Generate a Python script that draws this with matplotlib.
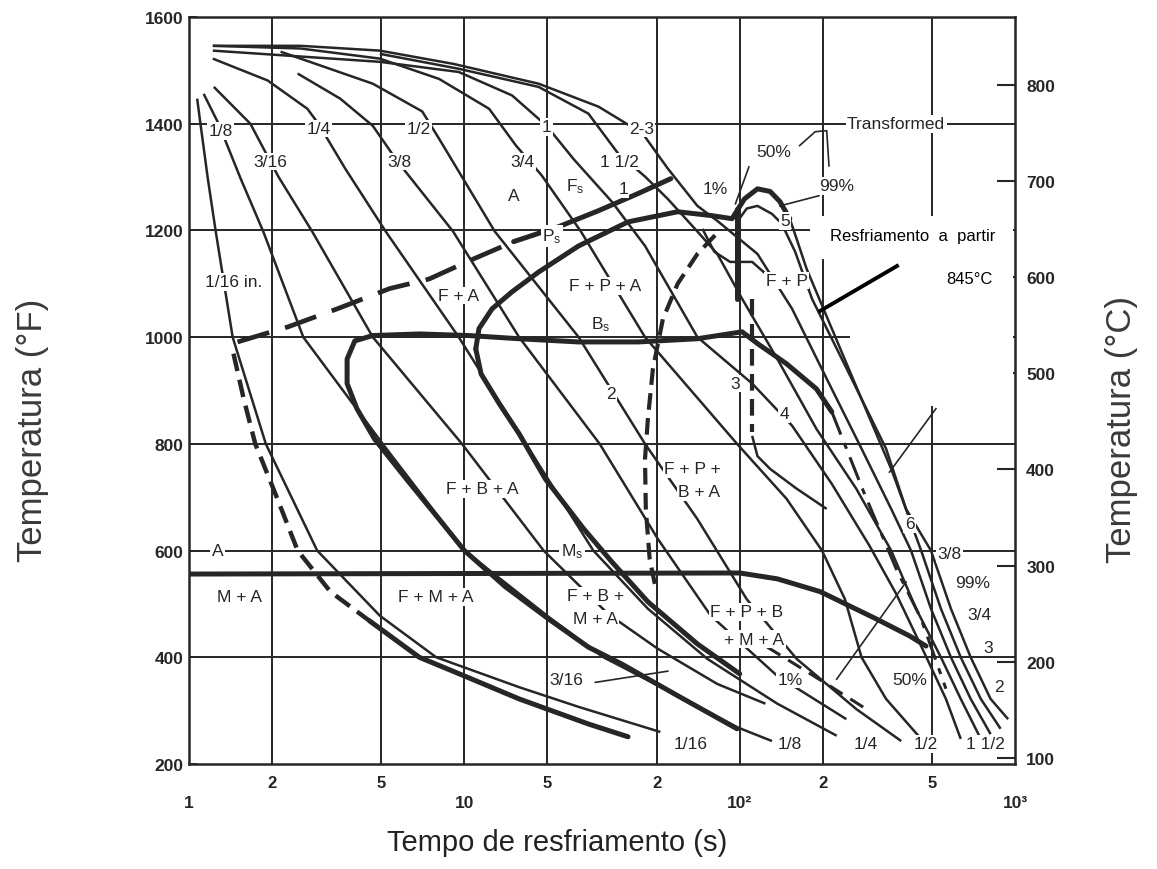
import matplotlib.pyplot as plt
from matplotlib.patches import Polygon
from matplotlib.lines import Line2D

plt.rcParams['font.family'] = ['Liberation Sans', 'DejaVu Sans']
plt.rcParams['mathtext.fontset'] = 'custom'
plt.rcParams['mathtext.rm'] = 'Liberation Sans'
plt.rcParams['mathtext.it'] = 'Liberation Sans'

INK = '#262626'

# cooling curves: time (s) and temperature (F)
t_1_16 = [1.07, 1.10, 1.17, 1.25, 1.44, 1.90, 2.92, 4.93, 7.9, 15.8, 26.0, 51.5]
f_1_16 = [1447, 1400, 1297, 1198, 1000, 800, 600, 478, 400, 344, 307, 260]
t_1_8 = [1.13, 1.28, 1.54, 1.86, 2.60, 5.05, 10.0, 20.2, 32.0, 59.5, 97.8, 131]
f_1_8 = [1456, 1400, 1297, 1198, 1000, 800, 600, 476, 400, 328, 269, 243]
t_3_16 = [1.23, 1.67, 2.11, 2.80, 4.65, 9.8, 19.4, 33.3, 50.4, 82.9, 124]
f_3_16 = [1469, 1400, 1301, 1198, 1000, 800, 600, 481, 416, 350, 313]
t_1_4 = [1.22, 1.93, 2.69, 2.95, 3.69, 5.18, 9.54, 16.7, 29.4, 46.4, 76.3, 137, 225]
f_1_4 = [1522, 1481, 1428, 1400, 1316, 1198, 1000, 800, 600, 491, 397, 313, 253]
t_3_8 = [2.48, 3.54, 4.65, 5.72, 9.1, 15.8, 31.0, 50.4, 78.5, 137, 244]
f_3_8 = [1494, 1447, 1396, 1329, 1198, 1000, 800, 622, 478, 365, 284]
t_1_2 = [2.15, 4.65, 7.03, 8.09, 12.9, 26.0, 45.3, 70.2, 106, 161, 265, 386]
f_1_2 = [1535, 1475, 1423, 1372, 1198, 1000, 800, 659, 509, 397, 303, 243]
t_3_4 = [1.22, 2.54, 4.93, 8.09, 12.3, 15.4, 19.1, 26.5, 45.3, 97.8, 148, 199, 241, 277, 340, 456]
f_3_4 = [1546, 1541, 1522, 1484, 1428, 1359, 1303, 1198, 1000, 800, 697, 600, 509, 400, 322, 247]
t_1 = [1.22, 4.93, 9.54, 14.9, 19.9, 24.9, 34.3, 45.3, 70.2, 111, 155, 216, 296, 370, 456, 561, 635]
f_1 = [1537, 1516, 1497, 1453, 1396, 1334, 1254, 1171, 1000, 913, 834, 725, 609, 519, 421, 322, 247]
t_1_1_2 = [4.93, 9.54, 18.6, 28.2, 36.2, 45.3, 54.8, 70.2, 82.9, 102, 137, 190, 265, 355, 437, 538, 635, 751]
f_1_1_2 = [1531, 1503, 1469, 1419, 1344, 1301, 1259, 1198, 1156, 1072, 959, 828, 716, 600, 491, 400, 322, 247]
t_2_3 = [1.22, 2.54, 4.93, 9.15, 18.6, 30.7, 37.7, 44.5, 54.8, 70.2, 82.9, 116, 155, 207, 277, 355,
         419, 495, 585, 690, 815]
f_2_3 = [1546, 1546, 1537, 1512, 1475, 1432, 1404, 1381, 1316, 1246, 1218, 1156, 1053, 922, 791, 678,
         600, 491, 400, 322, 256]
t_5 = [152, 161, 175, 216, 277, 355, 456, 538, 635, 751, 886]
f_5 = [1222, 1184, 1128, 1016, 884, 753, 600, 491, 400, 322, 266]
t_6 = [97.8, 106, 116, 131, 142, 159, 183, 255, 340, 402, 495, 585, 690, 815, 944]
f_6 = [1216, 1241, 1246, 1231, 1213, 1160, 1072, 922, 791, 678, 600, 491, 400, 322, 284]

# transformation lines (thick)
t_fs = [1.50, 2.28, 3.45, 5.35, 7.45, 10.4, 15.1]
f_fs = [991, 1019, 1053, 1091, 1109, 1143, 1179]
t_fs2 = [15.1, 22.0, 30.7, 42.7, 56.2]
f_fs2 = [1179, 1207, 1237, 1269, 1297]
t_ps = [11.0, 11.3, 12.6, 14.9, 18.6, 26.0, 39.3, 59.5, 78.5, 93.8, 104, 116, 129, 140, 152]
f_ps = [978, 1016, 1053, 1085, 1122, 1171, 1216, 1235, 1228, 1222, 1259, 1278, 1273, 1254, 1222]
t_ps_low = [11.0, 11.5, 13.4, 15.8, 19.7, 27.1, 34.3, 46.4, 70.2, 100]
f_ps_low = [978, 931, 875, 819, 734, 641, 579, 504, 425, 369]
t_bs = [4.65, 6.86, 10.4, 15.8, 26.0, 42.7, 70.2, 102, 116, 148, 190, 216]
f_bs = [1003, 1006, 1003, 997, 991, 991, 997, 1010, 988, 950, 903, 860]
t_bs_dash = [216, 282, 370, 456, 561]
f_bs_dash = [860, 710, 566, 472, 341]
t_nose = [4.65, 4.0, 3.75, 3.75, 4.07, 4.72, 6.16, 8.09, 10.0, 14.1, 20.2, 28.2, 37.1, 59.5, 97.8]
f_nose = [1003, 993, 959, 913, 866, 809, 734, 659, 600, 532, 472, 419, 388, 328, 266]
t_ms = [1.0, 100, 137, 196, 313, 414, 475]
f_ms = [556, 558, 547, 523, 472, 440, 421]
t_mf = [1.45, 1.58, 1.74, 2.06, 2.48, 3.26, 4.53]
f_mf = [969, 884, 800, 706, 600, 523, 468]
t_mf2 = [4.53, 6.86, 10.0, 15.8, 28.2, 39.3]
f_mf2 = [468, 400, 365, 322, 275, 251]
t_one_pct = [81.4, 70.2, 59.5, 52.6, 48.4, 46.4, 45.3, 45.6, 47.1, 49.6]
f_one_pct = [1191, 1156, 1100, 1034, 941, 847, 772, 678, 584, 528]
t_one_pct_low = [126, 161, 216, 288]
f_one_pct_low = [419, 385, 344, 303]
t_vert = [98, 98]
f_vert = [1241, 1072]
t_vert_dash = [111, 111]
f_vert_dash = [1072, 823]
t_wave = [73.2, 80.9, 92.3, 111, 124, 135]
f_wave = [1203, 1160, 1141, 1141, 1119, 1091]
t_three = [111, 116, 129, 161, 207]
f_three = [815, 777, 753, 716, 678]

# leader lines
t_lead_50 = [165, 188, 207, 211]
f_lead_50 = [1359, 1385, 1387, 1321]
t_lead_99 = [194, 140]
f_lead_99 = [1265, 1246]
t_lead_1 = [108, 96.5]
f_lead_1 = [1319, 1250]
t_lead_316 = [29.9, 54.8]
f_lead_316 = [353, 374]
t_lead_diag = [516, 350]
f_lead_diag = [866, 747]
t_lead_low = [225, 402]
f_lead_low = [359, 541]

# labels
lbl_text = ['1/8', '1/4', '1/2', '1', '2-3', '3/16', '3/8', '3/4', '1 1/2', '1/16 in.',
            'A', 'F$_s$', '1', 'P$_s$', 'F + A', 'F + P + A', 'B$_s$', '1%', '50%', '99%',
            'Transformed', '5', 'F + P', '2', '3', '4', '6', 'F + P +', 'B + A', 'F + B + A',
            'M$_s$', 'A', 'M + A', 'F + M + A', 'F + B +', 'M + A', 'F + P + B', '+ M + A',
            '3/16', '1%', '50%', '3/8', '99%', '3/4', '3', '2',
            '1/16', '1/8', '1/4', '1/2', '1 1/2']
lbl_t = [1.30, 2.95, 6.8, 19.9, 44.0, 1.98, 5.81, 16.2, 36.5, 1.45,
         15.1, 25.3, 37.7, 20.8, 9.54, 32.4, 31.3, 81.4, 133, 225,
         370, 146, 148, 34.0, 96, 145, 414, 67.4, 71.2, 11.6,
         24.6, 1.27, 1.52, 7.9, 29.9, 29.9, 106, 113,
         23.4, 152, 414, 578, 700, 741, 802, 875,
         66.5, 152, 288, 475, 782]
lbl_f = [1387, 1391, 1391, 1394, 1391, 1329, 1329, 1329, 1329, 1104,
         1265, 1284, 1278, 1190, 1078, 1096, 1025, 1278, 1348, 1284,
         1400, 1218, 1106, 894, 913, 856, 650, 753, 710, 716,
         600, 600, 513, 513, 515, 472, 485, 434,
         359, 359, 359, 594, 541, 481, 419, 346,
         238, 238, 238, 238, 238]

grid_x = [2, 5, 10, 20, 50, 100, 200, 500]
grid_y = [400, 600, 800, 1000, 1200, 1400]
celsius_ticks = [100, 200, 300, 400, 500, 600, 700, 800]

fig = plt.figure(figsize=(11.57, 8.70), dpi=100)
ax = fig.add_axes([0.1634, 0.1207, 0.7139, 0.8586])
ax.set_xscale('log')
ax.set_xlim(1, 1000)
ax.set_ylim(200, 1600)

for gx in grid_x:
    ax.axvline(gx, color=INK, lw=1.4, zorder=1)
for gy in grid_y:
    ax.axhline(gy, color=INK, lw=1.4, zorder=1)

thin = dict(color=INK, lw=1.8, zorder=2, solid_capstyle='butt')
for tt, ff in [(t_1_16, f_1_16), (t_1_8, f_1_8), (t_3_16, f_3_16), (t_1_4, f_1_4),
               (t_3_8, f_3_8), (t_1_2, f_1_2), (t_3_4, f_3_4), (t_1, f_1),
               (t_1_1_2, f_1_1_2), (t_2_3, f_2_3), (t_5, f_5), (t_6, f_6),
               (t_wave, f_wave), (t_three, f_three)]:
    ax.plot(tt, ff, **thin)

thick = dict(color=INK, lw=3.6, zorder=3, solid_capstyle='round')
for tt, ff in [(t_fs2, f_fs2), (t_ps, f_ps), (t_ps_low, f_ps_low), (t_bs, f_bs),
               (t_nose, f_nose), (t_ms, f_ms), (t_mf2, f_mf2), (t_vert, f_vert)]:
    ax.plot(tt, ff, **thick)

ax.plot(t_fs, f_fs, color=INK, lw=3.4, ls=(0, (7, 3.5)), zorder=3)
ax.plot(t_mf, f_mf, color=INK, lw=3.2, ls=(0, (4, 2)), zorder=3)
ax.plot(t_one_pct, f_one_pct, color=INK, lw=3.0, ls=(0, (4, 2)), zorder=3)
ax.plot(t_vert_dash, f_vert_dash, color=INK, lw=3.0, ls=(0, (4, 2)), zorder=3)
ax.plot(t_bs_dash, f_bs_dash, color=INK, lw=2.2, ls=(0, (8, 3, 2, 3)), zorder=3)
ax.plot(t_one_pct_low, f_one_pct_low, color=INK, lw=2.2, ls=(0, (5, 3)), zorder=3)

for tt, ff in [(t_lead_50, f_lead_50), (t_lead_99, f_lead_99), (t_lead_1, f_lead_1),
               (t_lead_316, f_lead_316), (t_lead_diag, f_lead_diag), (t_lead_low, f_lead_low)]:
    ax.plot(tt, ff, color=INK, lw=1.2, zorder=2)

for s, tt, ff in zip(lbl_text, lbl_t, lbl_f):
    ax.text(tt, ff, s, ha='center', va='center', fontsize=12.5, color=INK, zorder=6,
            bbox=dict(facecolor='white', edgecolor='none', pad=1.0))

for side in ['left', 'right', 'top', 'bottom']:
    ax.spines[side].set_linewidth(1.8)
    ax.spines[side].set_color(INK)

ax.set_yticks(range(200, 1601, 200))
ax.tick_params(axis='y', direction='in', length=6, width=1.4, pad=4, labelsize=12.5,
               colors=INK)
for lab in ax.get_yticklabels():
    lab.set_fontweight('bold')

ax.set_xticks([1, 10, 100, 1000])
ax.set_xticklabels(['1', '10', '10²', '10³'])
ax.set_xticks(grid_x, minor=True)
ax.set_xticklabels(['2', '5', '2', '5', '2', '5', '2', '5'], minor=True)
ax.tick_params(axis='x', which='major', length=0, pad=22, labelsize=12.5, colors=INK)
ax.tick_params(axis='x', which='minor', length=0, pad=8, labelsize=12, colors=INK)
for lab in ax.get_xticklabels() + ax.get_xticklabels(minor=True):
    lab.set_fontweight('bold')

sec = ax.secondary_yaxis('right', functions=(lambda f: (f - 32) * 5 / 9,
                                             lambda c: c * 9 / 5 + 32))
sec.set_yticks(celsius_ticks)
sec.tick_params(direction='in', length=13, width=1.5, pad=8, labelsize=12.5, colors=INK)
for lab in sec.get_yticklabels():
    lab.set_fontweight('bold')

# white note box pasted over the scan
box_px = [(810, 217), (1013, 217), (1013, 407), (880, 407), (880, 367), (850, 367),
          (850, 313), (837, 313), (837, 260), (810, 260)]
box = Polygon([(x / 100, (870 - y) / 100) for x, y in box_px], closed=True,
              facecolor='white', edgecolor='none', transform=fig.dpi_scale_trans, zorder=10)
fig.add_artist(box)
fig.add_artist(Line2D([8.97, 8.20], [(870 - 267) / 100, (870 - 312) / 100], color='black',
                      lw=2.8, transform=fig.dpi_scale_trans, zorder=12))
fig.text(830 / 1157, 1 - 237 / 870, 'Resfriamento  a  partir', fontsize=12, ha='left',
         va='center', color='black', zorder=12)
fig.text(993 / 1157, 1 - 280 / 870, '845°C', fontsize=12, ha='right', va='center',
         color='black', zorder=12)

fig.text(33 / 1157, 1 - 430 / 870, 'Temperatura (°F)', rotation=90, ha='center', va='center',
         fontsize=25, color='#3a3a3a')
fig.text(1122 / 1157, 1 - 430 / 870, 'Temperatura (°C)', rotation=90, ha='center',
         va='center', fontsize=25, color='#3a3a3a')
fig.text(557 / 1157, 1 - 843 / 870, 'Tempo de resfriamento (s)', ha='center', va='center',
         fontsize=21, color='#222222')

fig.savefig('out.png', dpi=100, facecolor='white')
